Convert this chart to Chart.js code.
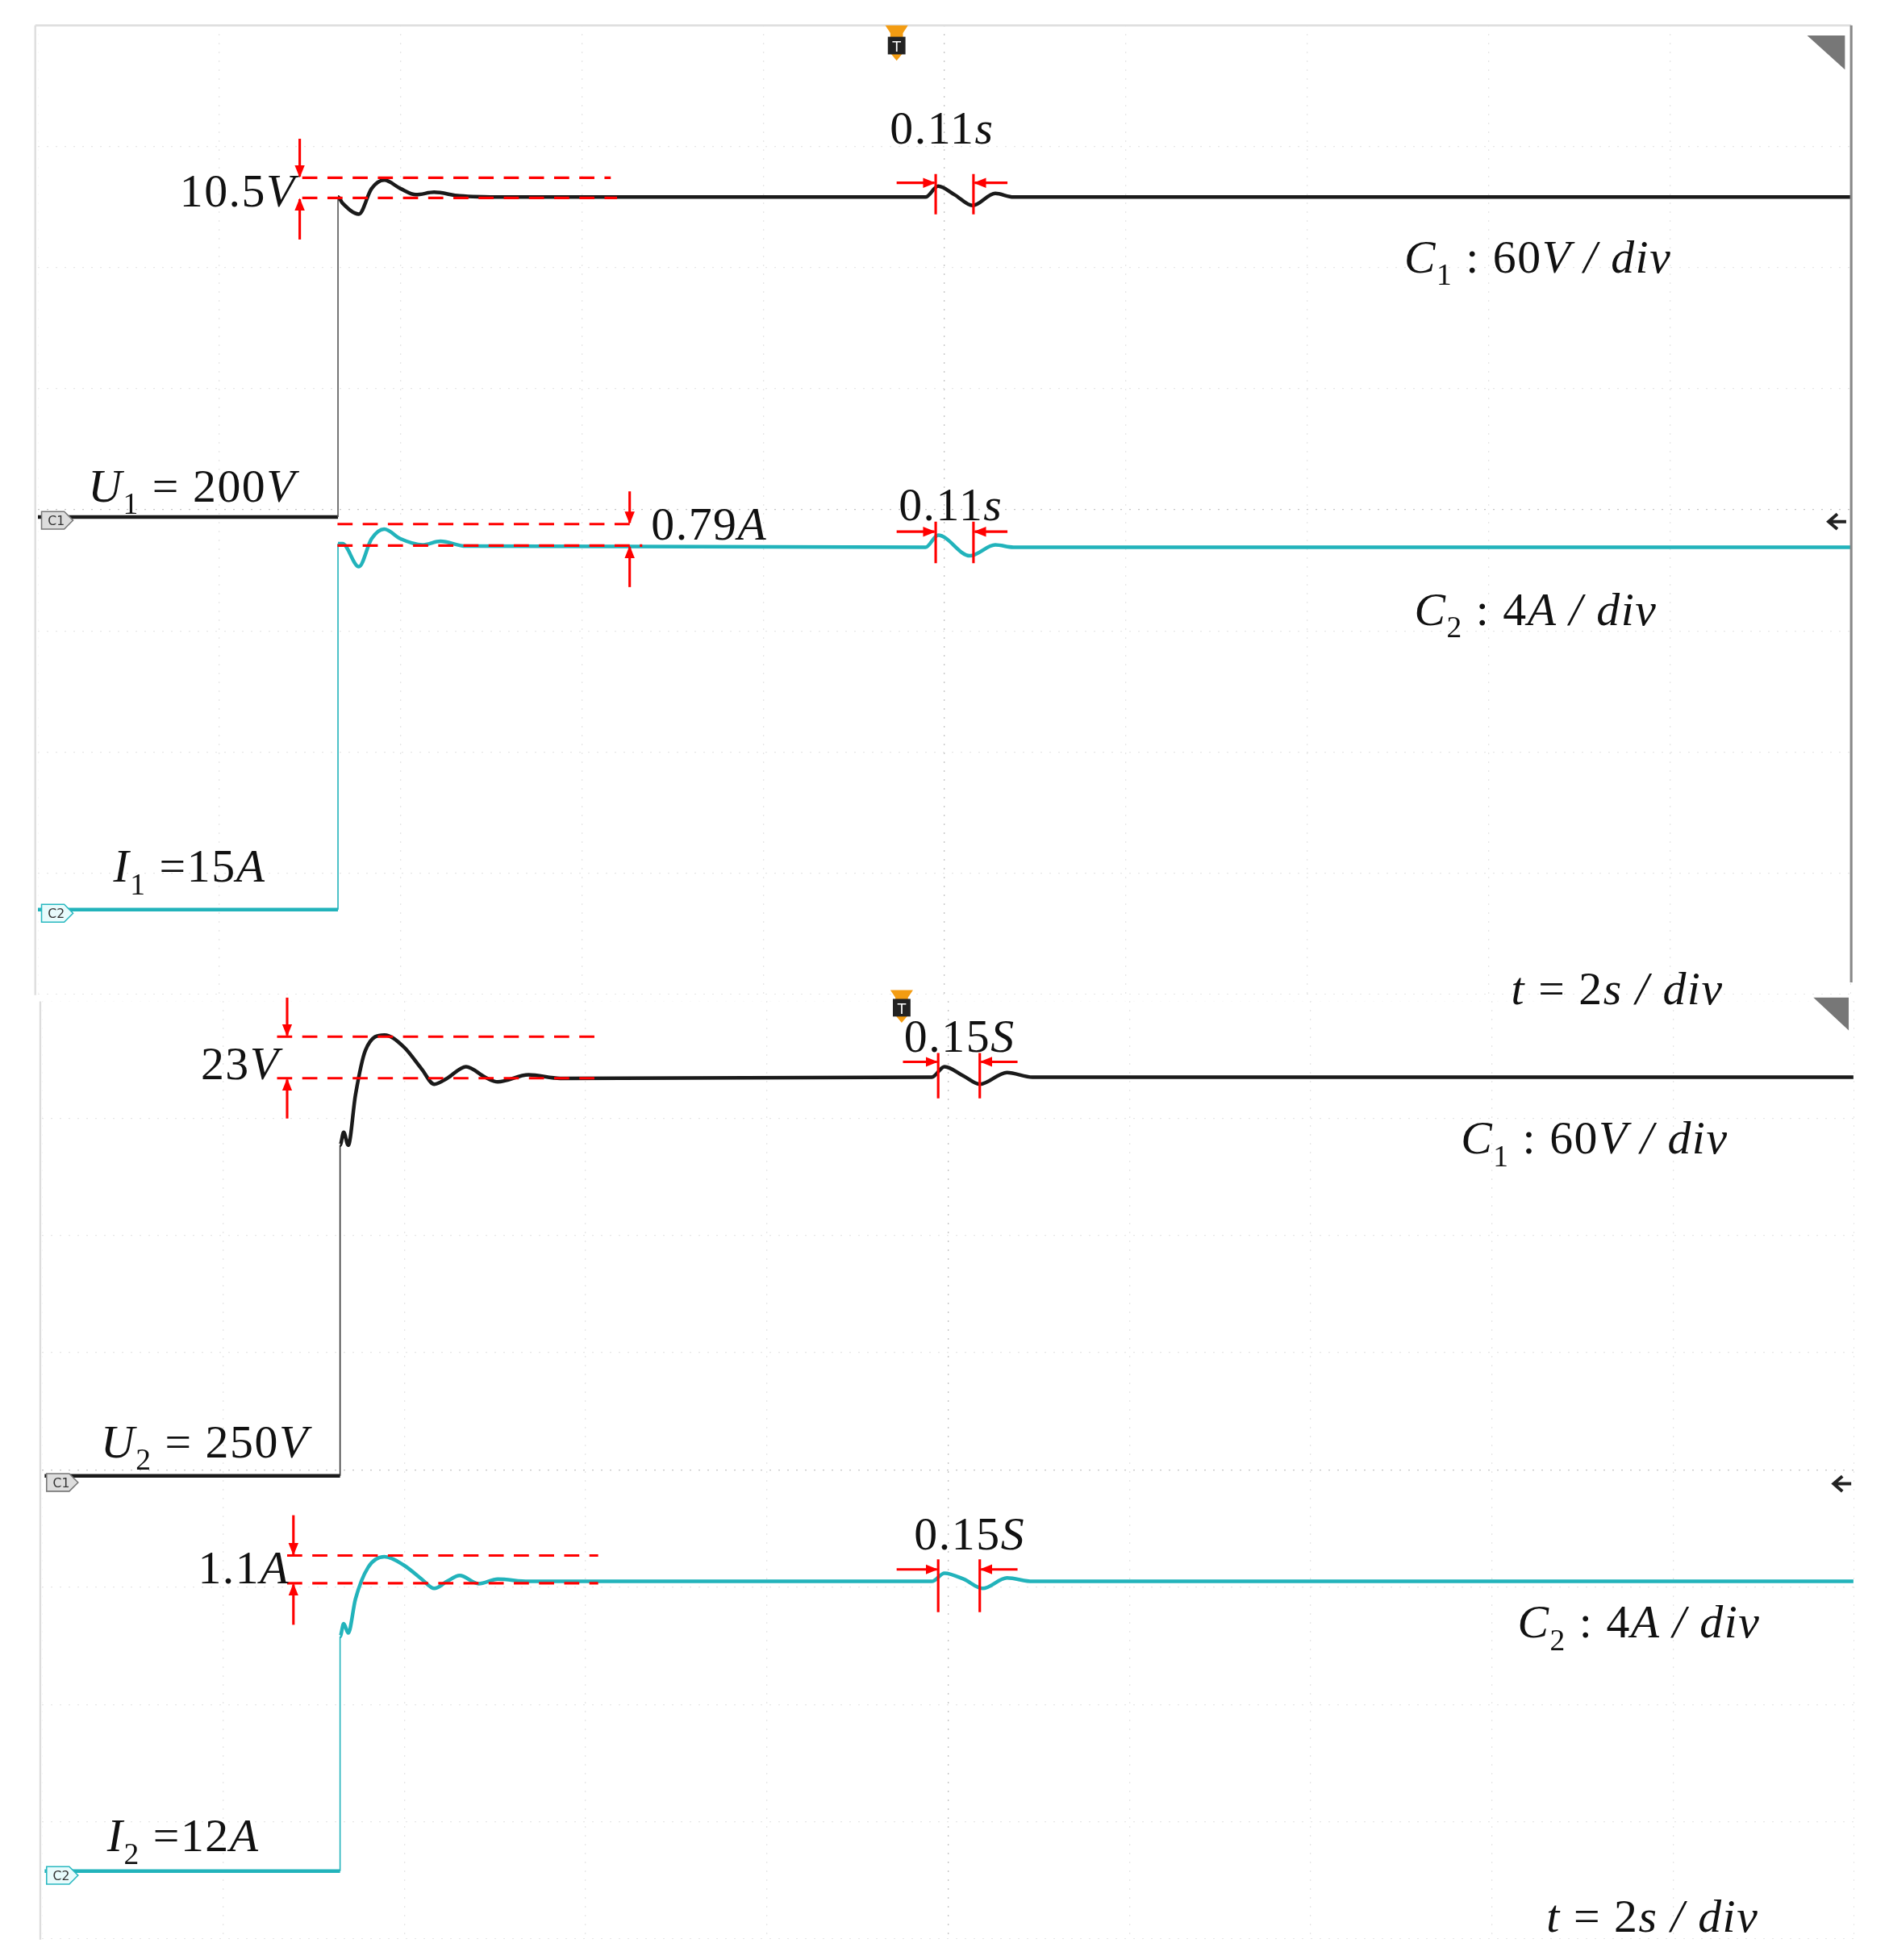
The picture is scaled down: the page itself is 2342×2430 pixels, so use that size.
<!DOCTYPE html>
<html><head><meta charset="utf-8">
<script src="https://cdn.jsdelivr.net/npm/chart.js@4"></script>
<style>
body{margin:0;width:2342px;height:2430px;background:#fff;position:relative;overflow:hidden}
.p{position:absolute}
svg{position:absolute;left:0;top:0}
</style></head><body>
<div class="p" style="left:47px;top:31px;width:2248px;height:1202px"><canvas id="c1"></canvas></div>
<div class="p" style="left:52px;top:1241px;width:2247px;height:1163px"><canvas id="c2"></canvas></div>
<svg width="2342" height="2430" viewBox="0 0 1500 1556" font-family="Liberation Serif, serif">
<defs>
<marker id="ah" markerWidth="10" markerHeight="10" refX="9" refY="5" orient="auto" markerUnits="userSpaceOnUse"><path d="M0,1 L10,5 L0,9 z" fill="#f00"/></marker>
</defs>
<g stroke="#f00" stroke-width="2" fill="none">
<path d="M240,141H485M240,157H490" stroke-dasharray="12,8"/>
<path d="M238,110V140" marker-end="url(#ah)"/><path d="M238,190V158" marker-end="url(#ah)"/>
<path d="M712,145H742" marker-end="url(#ah)"/><path d="M800,145H774" marker-end="url(#ah)"/>
<path d="M743,138V170M773,138V170"/>
<path d="M268,416H500M268,433H510" stroke-dasharray="12,8"/>
<path d="M500,390V415" marker-end="url(#ah)"/><path d="M500,466V434" marker-end="url(#ah)"/>
<path d="M712,422H742" marker-end="url(#ah)"/><path d="M800,422H774" marker-end="url(#ah)"/>
<path d="M743,414V447M773,414V447"/>
<path d="M220,823H472M220,856H472" stroke-dasharray="12,8"/>
<path d="M228,792V822" marker-end="url(#ah)"/><path d="M228,888V857" marker-end="url(#ah)"/>
<path d="M717,843H744" marker-end="url(#ah)"/><path d="M808,843H779" marker-end="url(#ah)"/>
<path d="M745,836V872M778,836V872"/>
<path d="M228,1235H475M228,1257H475" stroke-dasharray="12,8"/>
<path d="M233,1203V1234" marker-end="url(#ah)"/><path d="M233,1290V1258" marker-end="url(#ah)"/>
<path d="M712,1246H744" marker-end="url(#ah)"/><path d="M808,1246H779" marker-end="url(#ah)"/>
<path d="M745,1238V1280M778,1238V1280"/>
</g>
<path d="M28,20H1470M28,20V790M32,795V1540" stroke="#ddd" stroke-width="1.5" fill="none"/>
<path d="M1470,20V780" stroke="#888" stroke-width="2"/>
<path d="M1435,28L1465,28L1465,55z" fill="#777"/>
<path d="M1440,792L1468,792L1468,818z" fill="#777"/>
<path d="M703,20h18l-4,6v16l-5,6l-5,-6v-16z" fill="#f39c12"/><rect x="705" y="29" width="14" height="14" fill="#222"/><text x="712" y="41" font-family="DejaVu Sans" font-size="11" fill="#fff" text-anchor="middle">T</text>
<path d="M707,786h18l-4,6v14l-5,6l-5,-6v-14z" fill="#f39c12"/><rect x="709" y="793" width="14" height="14" fill="#222"/><text x="716" y="805" font-family="DejaVu Sans" font-size="11" fill="#fff" text-anchor="middle">T</text>
<path d="M1466,414H1452M1459,408L1452,414L1459,420" stroke="#222" stroke-width="2.5" fill="none"/>
<path d="M1470,1178H1456M1463,1172L1456,1178L1463,1184" stroke="#222" stroke-width="2.5" fill="none"/>
<g font-family="DejaVu Sans" font-size="10">
<path d="M33,406h18l7,7l-7,7h-18z" fill="#ddd" stroke="#777"/><text x="38" y="417" fill="#333">C1</text>
<path d="M33,718h18l7,7l-7,7h-18z" fill="#e8fbfc" stroke="#28b8c0"/><text x="38" y="729" fill="#333">C2</text>
<path d="M37,1170h18l7,7l-7,7h-18z" fill="#ddd" stroke="#777"/><text x="42" y="1181" fill="#333">C1</text>
<path d="M37,1482h18l7,7l-7,7h-18z" fill="#e8fbfc" stroke="#28b8c0"/><text x="42" y="1493" fill="#333">C2</text>
</g>
<g font-size="37" fill="#111" letter-spacing="1">
<text x="235" y="164" text-anchor="end">10.5<tspan font-style="italic">V</tspan></text>
<text x="748" y="114" text-anchor="middle">0.11<tspan font-style="italic">s</tspan></text>
<text x="755" y="413" text-anchor="middle">0.11<tspan font-style="italic">s</tspan></text>
<text x="517" y="428">0.79<tspan font-style="italic">A</tspan></text>
<text x="70" y="398"><tspan font-style="italic">U</tspan><tspan font-size="24" dy="10">1</tspan><tspan dy="-10"> = 200</tspan><tspan font-style="italic">V</tspan></text>
<text x="90" y="700"><tspan font-style="italic">I</tspan><tspan font-size="24" dy="10">1</tspan><tspan dy="-10"> =15</tspan><tspan font-style="italic">A</tspan></text>
<text x="1115" y="216" font-style="italic">C<tspan font-size="24" dy="10" font-style="normal">1</tspan><tspan dy="-10" font-style="normal"> : 60</tspan>V / div</text>
<text x="1123" y="496" font-style="italic">C<tspan font-size="24" dy="10" font-style="normal">2</tspan><tspan dy="-10" font-style="normal"> : 4</tspan>A / div</text>
<text x="1200" y="797" font-style="italic">t <tspan font-style="normal">= 2</tspan>s / div</text>
<text x="222" y="857" text-anchor="end">23<tspan font-style="italic">V</tspan></text>
<text x="762" y="835" text-anchor="middle">0.15<tspan font-style="italic">S</tspan></text>
<text x="1160" y="916" font-style="italic">C<tspan font-size="24" dy="10" font-style="normal">1</tspan><tspan dy="-10" font-style="normal"> : 60</tspan>V / div</text>
<text x="80" y="1157"><tspan font-style="italic">U</tspan><tspan font-size="24" dy="10">2</tspan><tspan dy="-10"> = 250</tspan><tspan font-style="italic">V</tspan></text>
<text x="230" y="1257" text-anchor="end">1.1<tspan font-style="italic">A</tspan></text>
<text x="770" y="1230" text-anchor="middle">0.15<tspan font-style="italic">S</tspan></text>
<text x="1205" y="1300" font-style="italic">C<tspan font-size="24" dy="10" font-style="normal">2</tspan><tspan dy="-10" font-style="normal"> : 4</tspan>A / div</text>
<text x="85" y="1470"><tspan font-style="italic">I</tspan><tspan font-size="24" dy="10">2</tspan><tspan dy="-10"> =12</tspan><tspan font-style="italic">A</tspan></text>
<text x="1228" y="1534" font-style="italic">t <tspan font-style="normal">= 2</tspan>s / div</text>
</g>
</svg>
<script>
// time in seconds (trigger at 0, 2 s/div), amplitude in screen divisions
const topVT = [-10,-6.69,-6.69,-6.64,-6.46,-6.32,-6.18,-6.0,-5.83,-5.63,-5.35,-4.86,-0.21,-0.07,0.11,0.31,0.56,0.76,10];
const topV  = [-0.06,-0.06,2.58,2.53,2.44,2.65,2.72,2.65,2.60,2.62,2.59,2.58,2.58,2.67,2.60,2.51,2.61,2.58,2.58];
const topIT = [-10,-6.69,-6.69,-6.64,-6.46,-6.32,-6.18,-6.0,-5.76,-5.56,-5.28,-0.21,-0.07,0.28,0.56,0.76,10];
const topI  = [-3.30,-3.30,-0.28,-0.28,-0.47,-0.24,-0.16,-0.24,-0.29,-0.26,-0.30,-0.31,-0.21,-0.38,-0.29,-0.31,-0.31];
const botVT = [-9.97,-6.71,-6.71,-6.67,-6.62,-6.54,-6.43,-6.22,-6.01,-5.81,-5.67,-5.53,-5.32,-5.11,-4.97,-4.63,-4.28,-0.18,-0.04,0.17,0.35,0.65,0.93,9.99];
const botV  = [-0.05,-0.05,2.77,2.88,2.77,3.2,3.58,3.71,3.61,3.42,3.29,3.34,3.44,3.35,3.31,3.37,3.34,3.35,3.44,3.36,3.29,3.39,3.35,3.35];
const botIT = [-9.97,-6.71,-6.71,-6.67,-6.62,-6.54,-6.40,-6.22,-6.01,-5.81,-5.67,-5.53,-5.39,-5.18,-4.97,-4.63,-0.18,-0.04,0.17,0.38,0.65,0.93,9.99];
const botI  = [-3.42,-3.42,-1.42,-1.31,-1.39,-1.1,-0.83,-0.74,-0.81,-0.93,-1.01,-0.95,-0.90,-0.97,-0.93,-0.95,-0.95,-0.88,-0.93,-1.01,-0.92,-0.95,-0.95];

const pts=(t,v)=>t.map((x,i)=>({x,y:v[i]}));
function ds(t,v,col,edge){
  return {data:pts(t,v),borderColor:col,borderWidth:4.5,pointRadius:0,cubicInterpolationMode:'monotone',
    segment:{borderWidth:c=>c.p0.parsed.x===c.p1.parsed.x?1.6:4.5,
             borderColor:c=>c.p0.parsed.x===c.p1.parsed.x?edge:col}};
}
const gcol=c=>c.tick && c.tick.value===0?'#c4c4c4':'#e6e6e6';
function make(id,a,b){
  new Chart(document.getElementById(id),{type:'line',
    data:{datasets:[a,b]},
    options:{animation:false,responsive:true,maintainAspectRatio:false,
      plugins:{legend:{display:false},tooltip:{enabled:false}},
      layout:{padding:0},
      scales:{
        x:{type:'linear',min:-10,max:10,ticks:{display:false,stepSize:2},border:{display:false,dash:[2,9]},
           grid:{drawTicks:false,color:gcol,lineWidth:1.3}},
        y:{min:-4,max:4,ticks:{display:false,stepSize:1},border:{display:false,dash:[2,9]},
           grid:{drawTicks:false,color:gcol,lineWidth:1.3}}
      }}});
}
make('c1',ds(topVT,topV,'#1a1a1a','#555'),ds(topIT,topI,'#22b3bb','#22b3bb'));
make('c2',ds(botVT,botV,'#1a1a1a','#333'),ds(botIT,botI,'#22b3bb','#22b3bb'));
</script>
</body></html>
